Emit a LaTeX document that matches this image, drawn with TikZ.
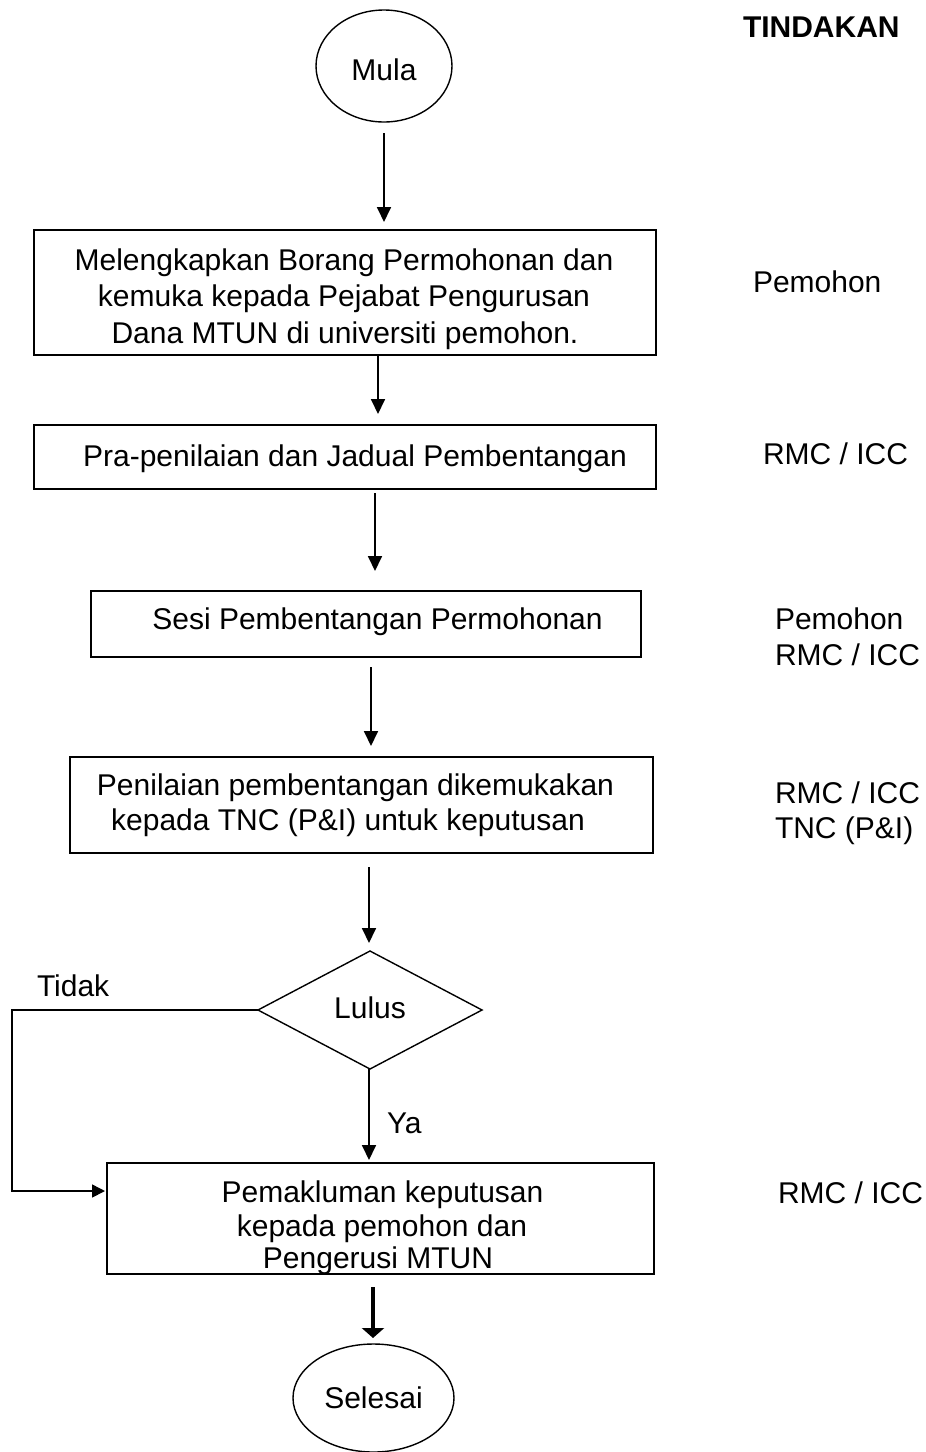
\documentclass[tikz,border=0pt]{standalone}
\usepackage{fontspec}
\setmainfont{Liberation Sans}
\usetikzlibrary{arrows.meta,shapes.geometric}
\begin{document}
\begin{tikzpicture}[x=1pt,y=-1pt,
  every node/.style={font=\fontsize{30pt}{36pt}\selectfont, inner sep=0pt, outer sep=0pt},
  txt/.style={anchor=base},
  lbl/.style={anchor=base west},
  procbox/.style={draw, line width=1.6pt, rectangle},
  term/.style={draw, ellipse, line width=1.4pt},
  decis/.style={draw, diamond, line width=1.4pt},
  arr/.style={line width=1.8pt, -{Triangle[width=14pt,length=15pt]}},
]
\useasboundingbox (0,0) rectangle (926,1452);

% terminals and decision
\node[term, minimum width=136pt, minimum height=112pt, text height=28pt, text depth=0pt] (mula) at (384,66) {Mula};
\node[term, minimum width=161pt, minimum height=108pt] (selesai) at (373.5,1398) {Selesai};
\node[decis, minimum width=224pt, minimum height=118pt, text height=16pt, text depth=0pt] (lulus) at (370,1010) {Lulus};

% process boxes
\node[procbox, minimum width=622pt, minimum height=125pt] (b1) at (345,292.5) {};
\node[procbox, minimum width=622pt, minimum height=64pt] (b2) at (345,457) {};
\node[procbox, minimum width=550pt, minimum height=66pt] (b3) at (366,624) {};
\node[procbox, minimum width=583pt, minimum height=96pt] (b4) at (361.5,805) {};
\node[procbox, minimum width=547pt, minimum height=111pt] (b5) at (380.5,1218.5) {};

% box texts
\node[txt] (b1a) at (344,270) {Melengkapkan Borang Permohonan dan};
\node[txt] (b1b) at (344,306) {kemuka kepada Pejabat Pengurusan};
\node[txt] (b1c) at (345,343) {Dana MTUN di universiti pemohon.};
\node[txt] (b2a) at (355,466) {Pra-penilaian dan Jadual Pembentangan};
\node[txt] (b3a) at (377.5,629) {Sesi Pembentangan Permohonan};
\node[txt] (b4a) at (355.5,795) {Penilaian pembentangan dikemukakan};
\node[txt] (b4b) at (348,830) {kepada TNC (P\&I) untuk keputusan};
\node[txt] (b5a) at (382.5,1202) {Pemakluman keputusan};
\node[txt] (b5b) at (382,1236) {kepada pemohon dan};
\node[txt] (b5c) at (378,1268) {Pengerusi MTUN};

% right column
\node[lbl, font=\fontsize{30pt}{36pt}\selectfont\bfseries] (tind) at (743,37) {TINDAKAN};
\node[lbl] (r1) at (753,292) {Pemohon};
\node[lbl] (r2) at (763,464) {RMC / ICC};
\node[lbl] (r3a) at (775,629) {Pemohon};
\node[lbl] (r3b) at (775,665) {RMC / ICC};
\node[lbl] (r4a) at (775,803) {RMC / ICC};
\node[lbl] (r4b) at (775,838) {TNC (P\&I)};
\node[lbl] (r5) at (778,1203) {RMC / ICC};

% branch labels
\node[lbl] (tidak) at (37,996) {Tidak};
\node[lbl] (ya) at (387,1133) {Ya};

% arrow x positions
\coordinate (x1) at (384,0);
\coordinate (x2) at (378,0);
\coordinate (x3) at (375,0);
\coordinate (x4) at (371,0);
\coordinate (x5) at (369,0);
\coordinate (x6) at (373,0);
\coordinate (tb) at (12,1191);

\draw[arr, shorten <=11pt, shorten >=8pt] (mula.south -| x1) -- (b1.north -| x1);
\draw[arr, shorten >=11pt] (b1.south -| x2) -- (b2.north -| x2);
\draw[arr, shorten <=4pt, shorten >=20pt] (b2.south -| x3) -- (b3.north -| x3);
\draw[arr, shorten <=10pt, shorten >=11pt] (b3.south -| x4) -- (b4.north -| x4);
\draw[arr, shorten <=14pt, shorten >=8pt] (b4.south -| x5) -- (lulus.north -| x5);
\draw[arr, shorten >=3pt] (lulus.south -| x5) -- (b5.north -| x5);
\draw[line width=3.4pt, -{Triangle[width=22pt,length=10pt]}, shorten <=13pt, shorten >=6pt] (b5.south -| x6) -- (selesai.north -| x6);
\draw[line width=1.6pt, -{Triangle[width=13pt,length=13pt]}, shorten >=2pt]
  (lulus.west) -- (lulus.west -| tb) -- (tb) -- (tb -| b5.west);
\end{tikzpicture}
\end{document}
